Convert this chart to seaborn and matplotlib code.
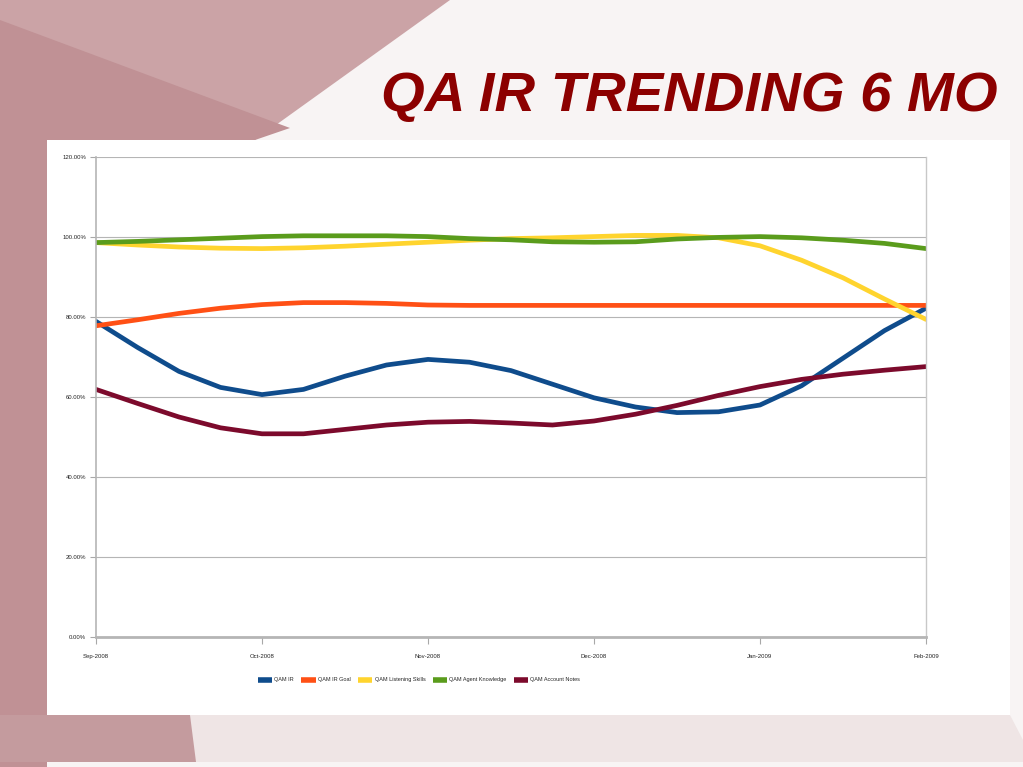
import numpy as np
import pandas as pd
import matplotlib
matplotlib.use("Agg")
import matplotlib.pyplot as plt
from matplotlib.patches import Polygon, Rectangle
import seaborn as sns

# month positions (quarter-month steps)
meses = ["Sep-2008", "Oct-2008", "Nov-2008", "Dec-2008", "Jan-2009", "Feb-2009"]
posicoes = [i * 0.25 for i in range(21)]

qam_ir = [78.9, 72.4, 66.4, 62.4, 60.6, 61.9, 65.2, 68.0, 69.4, 68.7, 66.6,
          63.2, 59.8, 57.5, 56.1, 56.3, 58.0, 62.8, 69.7, 76.6, 82.2]
qam_ir_goal = [77.8, 79.3, 80.9, 82.2, 83.1, 83.6, 83.6, 83.4, 83.0, 82.9, 82.9,
               82.9, 82.9, 82.9, 82.9, 82.9, 82.9, 82.9, 82.9, 82.9, 82.9]
qam_listening = [98.6, 98.0, 97.5, 97.2, 97.1, 97.3, 97.7, 98.2, 98.7, 99.2, 99.6,
                 99.8, 100.1, 100.4, 100.4, 99.8, 97.8, 94.2, 89.8, 84.5, 79.4]
qam_agent = [98.6, 98.9, 99.3, 99.7, 100.1, 100.3, 100.3, 100.3, 100.1, 99.6, 99.3,
             98.8, 98.7, 98.8, 99.5, 99.9, 100.1, 99.8, 99.2, 98.4, 97.1]
qam_notes = [61.9, 58.4, 55.0, 52.3, 50.8, 50.8, 51.9, 53.0, 53.7, 53.9, 53.5,
             53.0, 54.0, 55.7, 57.9, 60.4, 62.6, 64.4, 65.7, 66.7, 67.6]

series = {
    "QAM IR": qam_ir,
    "QAM IR Goal": qam_ir_goal,
    "QAM Listening Skills": qam_listening,
    "QAM Agent Knowledge": qam_agent,
    "QAM Account Notes": qam_notes,
}
cores = ["#0f4c8c", "#ff5015", "#ffd42e", "#5a9c1c", "#7c0a2c"]

dfs = []
for nome, valores in series.items():
    dfs.append(pd.DataFrame({"mes": posicoes, "valor": valores, "serie": nome}))
dados = pd.concat(dfs, ignore_index=True)

sns.set_style("white")
plt.rcParams["font.family"] = ["Liberation Sans", "DejaVu Sans"]

fig = plt.figure(figsize=(10.23, 7.67), dpi=100)
fig.patch.set_facecolor("#f8f4f4")

W, H = 1023, 767


def px(pts):
    return [(x / W, 1 - y / H) for x, y in pts]


def fundo(pontos, cor, z=-3):
    fig.patches.append(Polygon(px(pontos), closed=True, transform=fig.transFigure,
                               facecolor=cor, edgecolor="none", zorder=z))


# slide decoration (textured maroon areas approximated with flat colours)
fundo([(0, 0), (450, 0), (255, 140), (47, 140), (47, 767), (0, 767)], "#cba3a6")
fundo([(0, 20), (290, 128), (255, 140), (47, 140), (47, 767), (0, 767)], "#c09195")
fundo([(47, 715), (1010, 715), (1023, 740), (1023, 762), (0, 762), (0, 715)], "#efe5e5")
fundo([(0, 715), (190, 715), (196, 762), (0, 762)], "#c49b9e")
# white chart panel
fig.patches.append(Rectangle((47 / W, 1 - 715 / H), (1010 - 47) / W, (715 - 140) / H,
                             transform=fig.transFigure, facecolor="white",
                             edgecolor="none", zorder=-2))

fig.text(998 / W, 1 - 97 / H, "QA IR TRENDING 6 MO", ha="right", va="center",
         fontsize=40.5, fontweight="bold", fontstyle="italic", color="#8c0000")

ax = fig.add_axes([96 / W, 1 - 637 / H, (926 - 96) / W, (637 - 157) / H])
ax.set_zorder(2)
ax.set_facecolor("white")

sns.lineplot(data=dados, x="mes", y="valor", hue="serie", palette=cores,
             linewidth=3.4, ax=ax, legend=True)
for linha in ax.lines:
    linha.set_solid_joinstyle("round")

ax.set_xlim(0, 5)
ax.set_ylim(0, 120)
ax.set_xticks(range(6))
ax.set_xticklabels(meses)
ax.set_yticks(range(0, 121, 20))
ax.set_yticklabels([f"{v:.2f}%" for v in range(0, 121, 20)])
ax.tick_params(axis="both", labelsize=4.3, color="#a8a8a8", length=4, width=0.8,
               direction="out", labelcolor="#222222", bottom=True, left=True)
ax.tick_params(axis="x", pad=7, length=5)
ax.tick_params(axis="y", pad=3)
ax.yaxis.grid(True, color="#b5b5b5", linewidth=0.8)
ax.set_axisbelow(True)
ax.spines["top"].set_visible(False)
ax.spines["right"].set_color("#c8c8c8")
ax.spines["right"].set_linewidth(1.0)
ax.spines["left"].set_color("#b5b5b5")
ax.spines["left"].set_linewidth(1.2)
ax.spines["bottom"].set_color("#b5b5b5")
ax.spines["bottom"].set_linewidth(2)
ax.set_xlabel("")
ax.set_ylabel("")

handles, labels = ax.get_legend_handles_labels()
for h in handles:
    h.set_linewidth(4)
    h.set_solid_capstyle("butt")
ax.legend(handles, labels, loc="center",
          bbox_to_anchor=((419 - 96) / (926 - 96), -(680 - 637) / (637 - 157)),
          ncol=5, frameon=False, fontsize=4.0, handlelength=2.6, handletextpad=0.4,
          columnspacing=1.3)

fig.savefig("out.png", dpi=100)
